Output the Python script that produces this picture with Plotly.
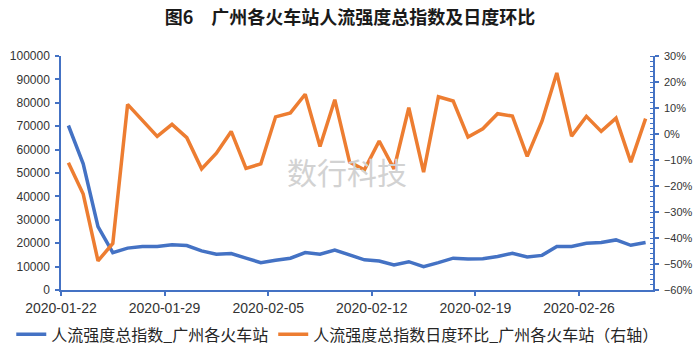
import pandas as pd
import plotly.graph_objects as go

dates = [
    "2020-01-22", "2020-01-23", "2020-01-24", "2020-01-25", "2020-01-26",
    "2020-01-27", "2020-01-28", "2020-01-29", "2020-01-30", "2020-01-31",
    "2020-02-01", "2020-02-02", "2020-02-03", "2020-02-04", "2020-02-05",
    "2020-02-06", "2020-02-07", "2020-02-08", "2020-02-09", "2020-02-10",
    "2020-02-11", "2020-02-12", "2020-02-13", "2020-02-14", "2020-02-15",
    "2020-02-16", "2020-02-17", "2020-02-18", "2020-02-19", "2020-02-20",
    "2020-02-21", "2020-02-22", "2020-02-23", "2020-02-24", "2020-02-25",
    "2020-02-26", "2020-02-27", "2020-02-28", "2020-02-29", "2020-03-01",
]

index_total = [
    70300, 53900, 27100, 16000, 17900, 18600, 18600, 19300, 19000, 16700,
    15300, 15600, 13600, 11700, 12700, 13600, 16000, 15300, 17100, 15000,
    12900, 12400, 10700, 12100, 10000, 11700, 13600, 13200, 13400, 14300,
    15700, 14100, 14800, 18600, 18600, 20000, 20300, 21400, 19100, 20300,
]

dod_pct = [
    -11.1, -23.1, -48.8, -42.1, 11.4, 5.0, -0.9, 3.7, -1.4, -13.4,
    -7.4, 1.0, -13.2, -11.5, 6.6, 8.1, 15.3, -4.8, 13.2, -10.8,
    -13.8, -2.7, -13.4, 10.1, -14.7, 14.3, 12.7, -1.2, 2.0, 7.8,
    6.9, -8.6, 4.9, 23.5, -0.8, 6.8, 1.0, 6.1, -10.8, 5.9,
]

tick_labels = ["2020-01-22", "2020-01-29", "2020-02-05", "2020-02-12", "2020-02-19", "2020-02-26"]

name_left = "人流强度总指数_广州各火车站"
name_right = "人流强度总指数日度环比_广州各火车站（右轴）"
title_text = "<b>图6\u3000广州各火车站人流强度总指数及日度环比</b>"
watermark = "数行科技"

BLUE = "#4472C4"
ORANGE = "#ED7D31"
AXIS = "#4472C4"

dt = pd.to_datetime(dates)
half = pd.Timedelta(hours=12)
x_range = [dt[0] - half, dt[-1] + half]
tick_vals = [pd.Timestamp(t) - half for t in tick_labels]

fig = go.Figure()
fig.add_trace(go.Scatter(x=dt, y=index_total, name=name_left, mode="lines",
                         line=dict(color=BLUE, width=3.5)))
fig.add_trace(go.Scatter(x=dt, y=dod_pct, name=name_right, mode="lines",
                         line=dict(color=ORANGE, width=3.5), yaxis="y2"))

font_num = "Liberation Sans, Arial, sans-serif"
font_cjk = "Noto Sans CJK SC, sans-serif"

fig.update_layout(
    width=700, height=360,
    margin=dict(l=61, r=47, t=56, b=70, autoexpand=False),
    paper_bgcolor="white", plot_bgcolor="white",
    title=dict(text=title_text, x=0.5, xanchor="center", y=0.95, yanchor="middle",
               font=dict(family=font_cjk, size=18, color="#1a1a1a")),
    showlegend=True,
    legend=dict(orientation="h", x=-0.084, xanchor="left", y=-0.19, yanchor="middle",
                font=dict(family=font_cjk, size=16, color="#262626"),
                itemwidth=30, tracegroupgap=0, bgcolor="rgba(0,0,0,0)"),
    xaxis=dict(type="date", range=x_range, tickmode="array", tickvals=tick_vals,
               ticktext=tick_labels, showline=True, linecolor=AXIS, linewidth=1.5,
               ticks="outside", tickcolor=AXIS, ticklen=4, tickwidth=1.5,
               showgrid=False, zeroline=False, automargin=False,
               tickfont=dict(family=font_num, size=14, color="#333333")),
    yaxis=dict(range=[0, 100000], dtick=10000, tick0=0, showline=True, linecolor=AXIS,
               linewidth=1.5, ticks="outside", tickcolor=AXIS, ticklen=4, tickwidth=1.5,
               showgrid=False, zeroline=False, tickformat="d", ticklabelstandoff=3,
               automargin=False,
               tickfont=dict(family=font_num, size=12, color="#333333")),
    yaxis2=dict(range=[-60, 30], dtick=10, tick0=0, overlaying="y", side="right",
                showline=True, linecolor=AXIS, linewidth=1.5, ticks="outside",
                tickcolor=AXIS, ticklen=4, tickwidth=1.5, ticksuffix="%",
                showgrid=False, zeroline=False, ticklabelstandoff=3, automargin=False,
                minor=dict(dtick=2, ticks="inside", ticklen=3, tickcolor=AXIS, tickwidth=1),
                tickfont=dict(family=font_num, size=11, color="#333333")),
    annotations=[dict(text=watermark, xref="paper", yref="paper", x=0.483, y=0.51,
                      showarrow=False, font=dict(family=font_cjk, size=30, color="#d2d2d2"))],
)

fig.write_html("out.html", config={"displayModeBar": False},
               post_script="document.body.style.margin='0';document.body.style.overflow='hidden';")
